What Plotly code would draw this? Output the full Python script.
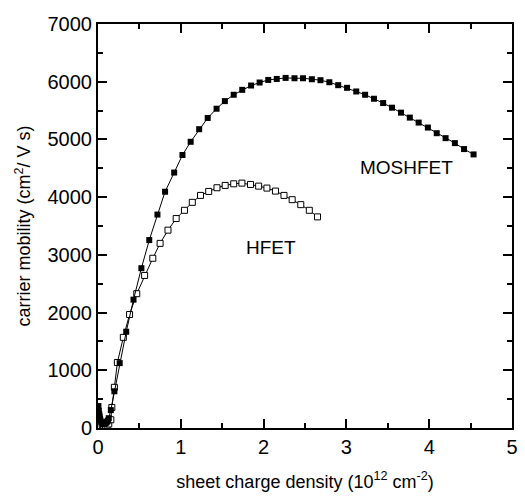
import plotly.graph_objects as go

# MOSHFET (filled squares)
mos_x = [0.005, 0.01, 0.015, 0.02, 0.025, 0.03, 0.04, 0.05, 0.06, 0.07, 0.08, 0.09, 0.10, 0.11, 0.12, 0.13,
         0.155, 0.198, 0.262, 0.341, 0.429, 0.524, 0.619, 0.718, 0.810, 0.920, 1.020, 1.119, 1.222, 1.325,
         1.432, 1.532, 1.639, 1.742, 1.849, 1.952, 2.056, 2.159, 2.266, 2.373, 2.476, 2.583, 2.687, 2.794,
         2.901, 3.008, 3.119, 3.226, 3.333, 3.444, 3.551, 3.659, 3.766, 3.873, 3.984, 4.091, 4.198, 4.310,
         4.421, 4.536]
mos_y = [380, 300, 240, 200, 160, 130, 100, 80, 70, 70, 75, 85, 95, 110, 130, 170,
         310, 636, 1124, 1668, 2224, 2769, 3256, 3698, 4094, 4426, 4730, 4959, 5177, 5372,
         5532, 5664, 5774, 5859, 5934, 5986, 6031, 6048, 6066, 6060, 6060, 6043, 6026, 5991,
         5940, 5894, 5831, 5774, 5705, 5630, 5550, 5464, 5378, 5292, 5206, 5108, 5022, 4936,
         4833, 4740]

# HFET (open squares)
hf_x = [0.05, 0.07, 0.09, 0.11, 0.13, 0.155, 0.167, 0.198, 0.234, 0.306, 0.381, 0.468, 0.563, 0.662,
        0.750, 0.845, 0.944, 1.044, 1.139, 1.238, 1.337, 1.437, 1.536, 1.639, 1.738, 1.842, 1.940,
        2.040, 2.143, 2.246, 2.345, 2.449, 2.552, 2.651]
hf_y = [60, 45, 40, 50, 70, 143, 356, 705, 1135, 1571, 1966, 2327, 2643, 2941,
        3199, 3428, 3629, 3772, 3910, 4030, 4099, 4163, 4203, 4231, 4243, 4220, 4191,
        4157, 4105, 4030, 3956, 3870, 3772, 3658]

x_ticks = [0, 1, 2, 3, 4, 5]
y_ticks = [0, 1000, 2000, 3000, 4000, 5000, 6000, 7000]

FONT = "Liberation Sans, Arial, sans-serif"

fig = go.Figure()
fig.add_trace(go.Scatter(x=hf_x, y=hf_y, mode="lines+markers", name="HFET",
                         line=dict(color="black", width=1),
                         marker=dict(symbol="square", size=6, color="white",
                                     line=dict(color="black", width=1))))
fig.add_trace(go.Scatter(x=mos_x, y=mos_y, mode="lines+markers", name="MOSHFET",
                         line=dict(color="black", width=1),
                         marker=dict(symbol="square", size=6, color="black")))

fig.add_annotation(x=3.14, y=4510, text="MOSHFET", showarrow=False,
                   xanchor="left", font=dict(family=FONT, size=19, color="black"))
fig.add_annotation(x=1.76, y=3120, text="HFET", showarrow=False,
                   xanchor="left", font=dict(family=FONT, size=19, color="black"))

axis_common = dict(showline=True, linewidth=2, linecolor="black", mirror="ticks",
                   ticks="inside", ticklen=9, tickwidth=1.5, tickcolor="black",
                   showgrid=False, zeroline=False,
                   tickfont=dict(family=FONT, size=20, color="black"))

fig.update_xaxes(range=[0, 5], tickvals=x_ticks, ticktext=[str(v) for v in x_ticks],
                 minor=dict(dtick=0.5, ticks="inside", ticklen=5, tickwidth=1.5, tickcolor="black"),
                 title=dict(text="sheet charge density (10<sup>12</sup> cm<sup>-2</sup>)",
                            font=dict(family=FONT, size=18, color="black"), standoff=18),
                 **axis_common)
fig.update_yaxes(range=[0, 7000], tickvals=y_ticks, ticktext=[str(v) for v in y_ticks],
                 minor=dict(dtick=500, ticks="inside", ticklen=5, tickwidth=1.5, tickcolor="black"),
                 title=dict(text="carrier mobility (cm<sup>2</sup>/ V s)",
                            font=dict(family=FONT, size=18, color="black"), standoff=12),
                 **axis_common)

fig.update_layout(width=525, height=496, showlegend=False,
                  paper_bgcolor="white", plot_bgcolor="white",
                  margin=dict(l=98, r=7, t=24, b=65))

fig.write_html("out.html", config={"displayModeBar": False},
               post_script="document.body.style.margin='0';document.body.style.overflow='hidden';")
